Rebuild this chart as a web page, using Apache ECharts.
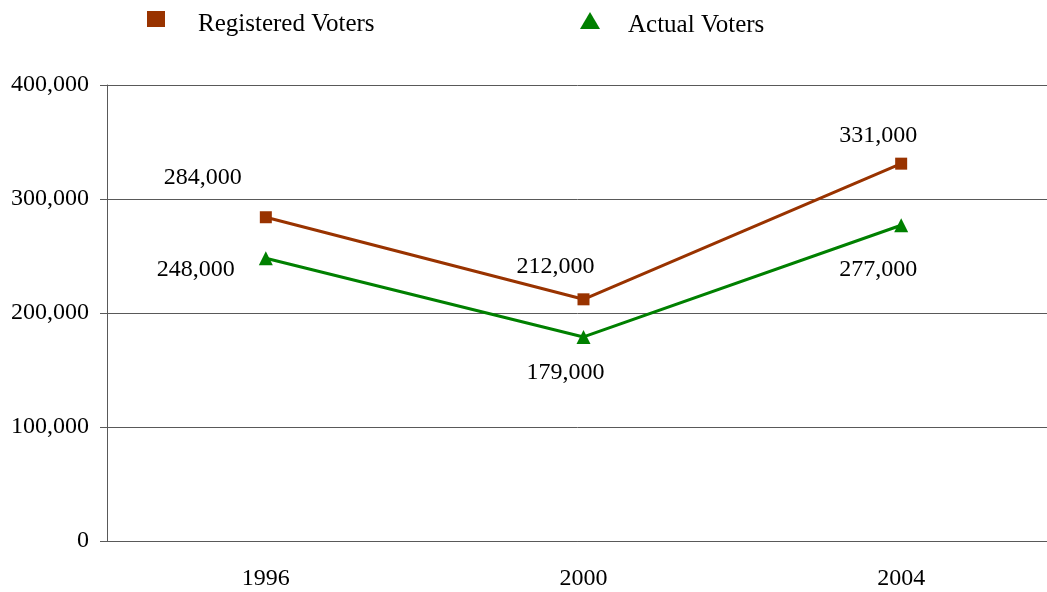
<!DOCTYPE html>
<html>
<head>
<meta charset="utf-8">
<script src="https://cdn.jsdelivr.net/npm/echarts@6/dist/echarts.min.js"></script>
<style>
html,body{margin:0;padding:0;background:#fff;}
#chart{width:1047px;height:592px;}
</style>
</head>
<body>
<div id="chart"></div>
<script>
var categories = ['1996', '2000', '2004'];
var registeredVoters = [284000, 212000, 331000];
var actualVoters = [248000, 179000, 277000];
var seriesNames = ['Registered Voters', 'Actual Voters'];

var FONT = "'Liberation Serif', 'Times New Roman', serif";
var regOffsets = [[-63, -40], [-28, -33], [-23, -28]];
var actOffsets = [[-70, 11], [-18, 36], [-23, 44]];

function fmt(v) { return v.toLocaleString('en-US'); }

function buildData(values, offsets) {
  return values.map(function (v, i) {
    return { value: v, label: { offset: offsets[i] } };
  });
}

function legendText(leftPad) {
  return {
    fontFamily: FONT, fontSize: 25, color: '#000',
    rich: {
      t: { fontFamily: FONT, fontSize: 25, color: '#000', padding: [10, 0, 0, leftPad] }
    }
  };
}

var chart = echarts.init(document.getElementById('chart'));
chart.setOption({
  animation: false,
  backgroundColor: '#ffffff',
  textStyle: { fontFamily: FONT },
  legend: [
    {
      data: [{ name: seriesNames[0], icon: 'rect' }],
      left: 142, top: 6,
      itemWidth: 18, itemHeight: 16,
      formatter: '{t|{name}}',
      textStyle: legendText(28)
    },
    {
      data: [{ name: seriesNames[1], icon: 'triangle' }],
      left: 575, top: 7,
      itemWidth: 20, itemHeight: 17,
      formatter: '{t|{name}}',
      textStyle: legendText(23)
    }
  ],
  grid: { left: 107, width: 953, top: 85, bottom: 51, containLabel: false, outerBoundsMode: 'none' },
  xAxis: {
    type: 'category',
    data: categories,
    boundaryGap: true,
    axisLine: { lineStyle: { color: '#595959', width: 1 } },
    axisTick: { show: false },
    axisLabel: { fontFamily: FONT, fontSize: 24, color: '#000', margin: 26 },
    splitLine: { show: false }
  },
  yAxis: {
    type: 'value',
    min: 0, max: 400000, interval: 100000,
    axisLine: { show: true, lineStyle: { color: '#595959', width: 1 } },
    axisTick: { show: true, length: 7, lineStyle: { color: '#595959' } },
    axisLabel: { fontFamily: FONT, fontSize: 24, color: '#000', margin: 18, formatter: fmt },
    splitLine: { show: true, lineStyle: { color: '#595959', width: 1 } }
  },
  series: [
    {
      name: seriesNames[0],
      type: 'line',
      data: buildData(registeredVoters, regOffsets),
      symbol: 'rect', symbolSize: 12,
      itemStyle: { color: '#993300' },
      lineStyle: { color: '#993300', width: 3 },
      label: {
        show: true, position: 'inside',
        fontFamily: FONT, fontSize: 24, color: '#000',
        formatter: function (p) { return fmt(p.value); }
      },
      z: 3
    },
    {
      name: seriesNames[1],
      type: 'line',
      data: buildData(actualVoters, actOffsets),
      symbol: 'triangle', symbolSize: 14,
      itemStyle: { color: '#008000' },
      lineStyle: { color: '#008000', width: 3 },
      label: {
        show: true, position: 'inside',
        fontFamily: FONT, fontSize: 24, color: '#000',
        formatter: function (p) { return fmt(p.value); }
      },
      z: 2
    }
  ]
});
</script>
</body>
</html>
